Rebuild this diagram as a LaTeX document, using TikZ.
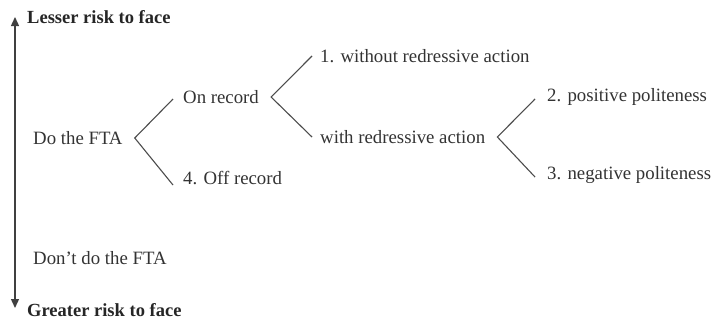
\documentclass[tikz,border=0pt]{standalone}
\usepackage{fontspec}
\setmainfont{Liberation Serif}
\usepackage{tikz}
\usetikzlibrary{arrows.meta,calc,positioning}
\tikzset{%
	strat/.style   = {anchor=west, inner sep=0pt, text=black!80, font=\fontsize{18.8}{21}\selectfont},
	pole/.style    = {strat, font=\fontsize{18.5}{21}\selectfont\bfseries, text=black!85},
	branch/.style  = {draw=black!70, line width=1.1pt},
	riskaxis/.style= {draw=black!75, line width=1.4pt, {Triangle[length=9pt,width=8pt]}-{Triangle[length=9pt,width=8pt]}},
}
\begin{document}
\begin{tikzpicture}[x=1pt,y=-1pt]
	\useasboundingbox (0,0) rectangle (711,322);
	
	% risk scale
	\coordinate (top) at (15,17);
	\coordinate (bottom) at (15,308);
	\draw[riskaxis] (top) -- (bottom);
	\node[pole] (lesser) at (27,17) {Lesser risk to face};
	\node[pole] (greater) at (27,310) {Greater risk to face};
	
	% strategies
	\node[strat] (fta) at (33,138) {Do the FTA};
	\node[strat] (dont) at (33,258) {Don’t do the FTA};
	\node[strat] (on) at (183,97) {On record};
	\node[strat] (off) at (183,178) {4. Off record};
	\node[strat] (without) at (320,56) {1. without redressive action};
	\node[strat] (with) at (320,137) {with redressive action};
	\node[strat] (pos) at (547,97) {2. positive politeness};
	\node[strat] (neg) at (547,175) {3. negative politeness};
	
	% brackets
	\draw[branch] ([xshift=-10pt,yshift=-2pt]on.west) -- ([xshift=12pt]fta.east) -- ([xshift=-10pt,yshift=-7pt]off.west);
	\draw[branch] ([xshift=-8pt]without.west) -- ([xshift=12pt]on.east) -- ([xshift=-8pt]with.west);
	\draw[branch] ([xshift=-12pt,yshift=-2pt]pos.west) -- ([xshift=12pt]with.east) -- ([xshift=-12pt,yshift=-2pt]neg.west);
	
\end{tikzpicture}
\end{document}
